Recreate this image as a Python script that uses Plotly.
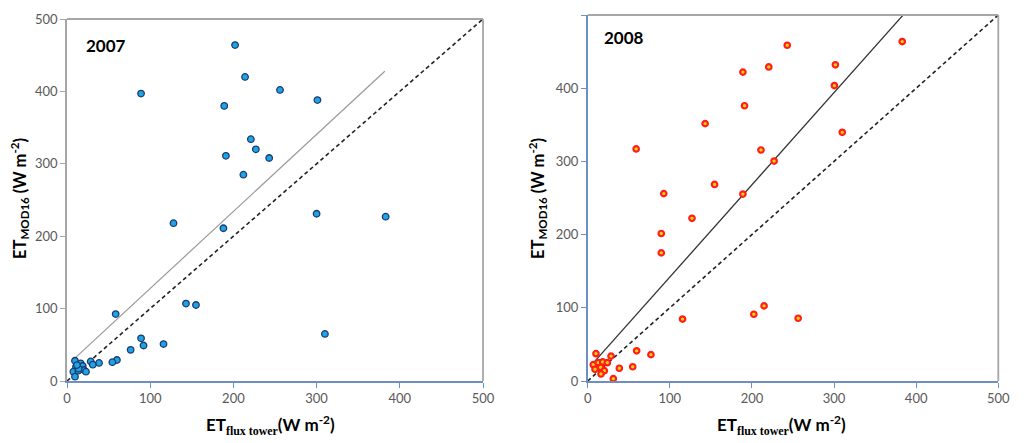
import numpy as np
import plotly.graph_objects as go

# ---------------- data ----------------
# 2007 panel (flux tower ET vs MOD16 ET)
x2007 = [202, 214, 89, 189, 221, 227, 191, 212, 256, 301, 243, 300, 383, 310,
         128, 188, 58.5, 143, 155, 89, 92, 116, 76.5, 60, 54.5, 38.5, 28.5, 31,
         9.6, 16.4, 10.8, 18.9, 7.6, 13.6, 20.4, 22.8, 9.6, 14, 12]
y2007 = [464, 420, 397, 380, 334, 320, 311, 285, 402, 388, 308, 231, 227, 65,
         218, 211, 92.5, 107, 105, 59, 49, 51, 43, 29, 26, 25, 27, 22.5,
         28, 24.4, 19.8, 20.7, 12.9, 14.3, 15.2, 12.9, 6, 17, 22]

# 2008 panel
x2008 = [189, 220.5, 191, 143, 59, 211, 227, 92.6, 154.5, 189, 127, 243, 383,
         301.6, 300.4, 310, 89.6, 89.6, 115.5, 202.3, 214.8, 256.3, 59.6, 77,
         28.4, 10.1, 6.8, 12.9, 18.3, 23.9, 8.9, 15.8, 20.2, 16.2, 38.5, 54.8, 31.2]
y2008 = [422, 429, 376, 351.6, 317, 315.6, 300.5, 256, 268.5, 255.4, 222.3, 458.7, 463.7,
         432, 403.6, 339.7, 201.5, 175, 84.6, 91.2, 102.6, 85.7, 41.2, 36,
         34, 37.3, 22.3, 25, 26, 25, 16, 18.7, 14.1, 9.6, 17.4, 19.5, 3.2]

# regression lines: slope, intercept, x start, x end
fit2007 = [1.064, 21.4, 5, 382]
fit2008 = [1.26, 16.0, 5, 384]
one_to_one = [0, 500]

axis_ticks = [0, 100, 200, 300, 400, 500]
panel_labels = ["2007", "2008"]

# ---------------- figure ----------------
fig = go.Figure()

FONT = "Lato, 'Open Sans', sans-serif"
TICKC = "#595959"
BLUE_AX = "#6f8fc4"
GRAY_AX = "#a6a6a6"

# 2007
fig.add_trace(go.Scatter(x=one_to_one, y=one_to_one, mode="lines",
                         line=dict(color="#222222", width=1.6, dash="4px,3px"),
                         xaxis="x", yaxis="y", showlegend=False))
fx = np.array(fit2007[2:4])
fig.add_trace(go.Scatter(x=fx, y=fit2007[0] * fx + fit2007[1], mode="lines",
                         line=dict(color="#9a9a9a", width=1.2),
                         xaxis="x", yaxis="y", showlegend=False))
fig.add_trace(go.Scatter(x=x2007, y=y2007, mode="markers",
                         marker=dict(size=6.5, color="#1fa3e8",
                                     line=dict(color="#1b3a6b", width=1.3)),
                         xaxis="x", yaxis="y", showlegend=False))

# 2008
fig.add_trace(go.Scatter(x=one_to_one, y=one_to_one, mode="lines",
                         line=dict(color="#222222", width=1.6, dash="4px,3px"),
                         xaxis="x2", yaxis="y2", showlegend=False))
fx2 = np.array(fit2008[2:4])
fig.add_trace(go.Scatter(x=fx2, y=fit2008[0] * fx2 + fit2008[1], mode="lines",
                         line=dict(color="#333333", width=1.3),
                         xaxis="x2", yaxis="y2", showlegend=False))
fig.add_trace(go.Scatter(x=x2008, y=y2008, mode="markers",
                         marker=dict(size=5.5, color="#ffd400",
                                     line=dict(color="#ff1e1e", width=2.2)),
                         xaxis="x2", yaxis="y2", showlegend=False))

# page has an 8px body margin -> figure is offset by 8px
OFF = 8
PW, PH = 1024, 443
W, H = PW - OFF, PH - OFF


def px_x(px):
    return (px - OFF) / W


def px_y(py):
    return (PH - py) / H


L_x = [px_x(67), px_x(483)]
R_x = [px_x(587.7), px_x(998.3)]
L_y = [px_y(381), px_y(19)]
R_y = [px_y(381), px_y(15)]


def xaxis(domain, anchor):
    return dict(domain=domain, anchor=anchor, range=[0, 500], tickvals=axis_ticks,
                showgrid=False, zeroline=False, showline=True, linecolor=BLUE_AX,
                linewidth=1.5, ticks="outside", tickcolor=BLUE_AX, ticklen=5,
                tickwidth=1.3, tickfont=dict(family=FONT, size=13, color=TICKC),
                fixedrange=True, automargin=False)


def yaxis(domain, anchor, lc):
    return dict(domain=domain, anchor=anchor, range=[0, 500], tickvals=axis_ticks,
                showgrid=False, zeroline=False, showline=True, linecolor=lc,
                linewidth=1.5, ticks="outside", tickcolor=lc, ticklen=5,
                tickwidth=1.3, tickfont=dict(family=FONT, size=13, color=TICKC),
                fixedrange=True, automargin=False)


fig.update_layout(
    width=W, height=H,
    margin=dict(l=0, r=0, t=0, b=0, autoexpand=False),
    paper_bgcolor="white", plot_bgcolor="white",
    xaxis=xaxis(L_x, "y"),
    yaxis=yaxis(L_y, "x", GRAY_AX),
    xaxis2=xaxis(R_x, "y2"),
    yaxis2=yaxis(R_y, "x2", BLUE_AX),
    font=dict(family=FONT),
)

# top and right borders (gray)
for xr, yr in (("x", "y"), ("x2", "y2")):
    fig.add_shape(type="line", xref=xr + " domain", yref=yr + " domain",
                  x0=0, x1=1, y0=1, y1=1, line=dict(color=GRAY_AX, width=1.8))
    fig.add_shape(type="line", xref=xr + " domain", yref=yr + " domain",
                  x0=1, x1=1, y0=0, y1=1, line=dict(color=GRAY_AX, width=1.8))

# panel labels
fig.add_annotation(x=20, y=464, xref="x", yref="y", text="<b>" + panel_labels[0] + "</b>",
                   showarrow=False, xanchor="left", yanchor="middle",
                   font=dict(family=FONT, size=17, color="black"))
fig.add_annotation(x=18, y=469, xref="x2", yref="y2", text="<b>" + panel_labels[1] + "</b>",
                   showarrow=False, xanchor="left", yanchor="middle",
                   font=dict(family=FONT, size=17, color="black"))

# axis titles
xtitle = ("<b>ET<sub><span style='font-family:Liberation Serif'>flux tower</span></sub>"
          "(W m<sup>-2</sup>)</b>")
ytitle = "<b>ET<sub>MOD16</sub> (W m<sup>-2</sup>)</b>"
for cx in (270.5, 781):
    fig.add_annotation(x=px_x(cx), y=px_y(425), xref="paper", yref="paper",
                       text=xtitle, showarrow=False, xanchor="center", yanchor="middle",
                       font=dict(family=FONT, size=17, color="black"))
for cx in (20, 538):
    fig.add_annotation(x=px_x(cx), y=px_y(199), xref="paper", yref="paper",
                       text=ytitle, showarrow=False, textangle=-90,
                       xanchor="center", yanchor="middle",
                       font=dict(family=FONT, size=16.5, color="black"))

fig.write_html("out.html")
